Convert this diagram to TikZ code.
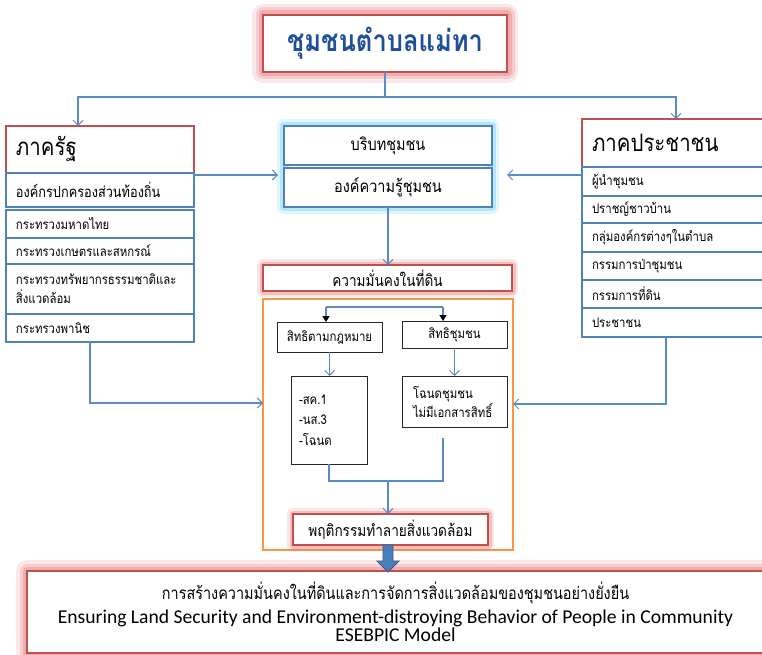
\documentclass[tikz,border=0pt]{standalone}
\usepackage{fontspec}
\setmainfont{Carlito}
\newfontfamily\thai[Script=Thai,FakeStretch=0.85]{Loma}
\usetikzlibrary{arrows.meta}
\definecolor{bboxc}{HTML}{4F81BD}
\definecolor{connc}{HTML}{5B8AC6}
\definecolor{redc}{HTML}{C0504D}
\definecolor{glowred}{HTML}{E8787A}
\definecolor{glowcyan}{HTML}{6FD3F2}
\definecolor{orangec}{HTML}{F79646}
\definecolor{titleblue}{HTML}{1F4E9A}
\definecolor{arrowblue}{HTML}{4A7EBB}
\definecolor{arrowdark}{HTML}{385D8A}
\tikzset{
  conn/.style={draw=connc, line width=1.3pt, -{Straight Barb[length=5pt,width=10pt,line width=1pt]}},
  plain/.style={draw=connc, line width=1.3pt},
  darrow/.style={draw=connc, line width=1.3pt, -{Triangle[length=6pt,width=7pt,color=black]}},
  bigglow/.style={preaction={draw=glowred, line width=22pt, draw opacity=0.16, line join=round},
                  preaction={draw=glowred, line width=15pt, draw opacity=0.24, line join=round},
                  preaction={draw=glowred, line width=9pt, draw opacity=0.38, line join=round}},
  smallglow/.style={preaction={draw=glowred, line width=12pt, draw opacity=0.18, line join=round},
                    preaction={draw=glowred, line width=7pt, draw opacity=0.36, line join=round}},
  redbox/.style={draw=redc, line width=2.6pt, fill=white},
  bluebox/.style={draw=bboxc, line width=2.6pt, fill=white},
  blackbox/.style={draw=black!85, line width=1pt, fill=white},
  lbox/.style={text width=168pt, inner xsep=10pt, align=left},
  rbox/.style={text width=162pt, inner xsep=10pt, align=left},
  thaiS/.style={font=\thai\fontsize{13.4}{19}\selectfont},
  thaiH/.style={font=\thai\fontsize{24}{28}\selectfont},
}
\begin{document}
\begin{tikzpicture}[x=1pt,y=-1pt, every node/.style={inner sep=0pt,outer sep=0pt}]
\useasboundingbox (0,0) rectangle (762,655);
\fill[white] (0,0) rectangle (762,655);

% cyan glow behind the central pair
\draw[draw=glowcyan, line width=14pt, draw opacity=0.2, line join=round] (284,126) rectangle (492,207);
\draw[draw=glowcyan, line width=8pt, draw opacity=0.4, line join=round] (284,126) rectangle (492,207);

% title
\node[redbox, bigglow, minimum width=244pt, minimum height=57pt,
      font=\thai\bfseries\fontsize{30}{34}\selectfont, text=titleblue] (title) at (385,43.5) {ชุมชนตำบลแม่ทา};

% left block
\node[redbox, lbox, thaiH, minimum height=47pt] (rh) at (100,149.5) {ภาครัฐ};
\node[bluebox, lbox, font=\thai\fontsize{15}{19}\selectfont, minimum height=34pt] (r1) at (100,190) {องค์กรปกครองส่วนท้องถิ่น};
\node[bluebox, lbox, thaiS, minimum height=28pt] (r2) at (100,224) {กระทรวงมหาดไทย};
\node[bluebox, lbox, thaiS, minimum height=26pt] (r3) at (100,251) {กระทรวงเกษตรและสหกรณ์};
\node[bluebox, lbox, thaiS, minimum height=50pt] (r4) at (100,289) {กระทรวงทรัพยากรธรรมชาติและ\\สิ่งแวดล้อม};
\node[bluebox, lbox, thaiS, minimum height=28pt] (r5) at (100,328) {กระทรวงพานิช};

% right block
\node[redbox, rbox, thaiH, minimum height=48pt] (ph) at (673,143) {ภาคประชาชน};
\node[bluebox, rbox, thaiS, minimum height=29pt] (p1) at (673,181.5) {ผู้นำชุมชน};
\node[bluebox, rbox, thaiS, minimum height=27pt] (p2) at (673,209.5) {ปราชญ์ชาวบ้าน};
\node[bluebox, rbox, thaiS, minimum height=29pt] (p3) at (673,237.5) {กลุ่มองค์กรต่างๆในตำบล};
\node[bluebox, rbox, thaiS, minimum height=28pt] (p4) at (673,266) {กรรมการป่าชุมชน};
\node[bluebox, rbox, thaiS, minimum height=28pt] (p5) at (673,294) {กรรมการที่ดิน};
\node[bluebox, rbox, thaiS, minimum height=29pt] (p6) at (673,322.5) {ประชาชน};

% centre
\node[bluebox, minimum width=208pt, minimum height=39pt, font=\thai\fontsize{17}{20}\selectfont] (k1) at (388,145.5) {บริบทชุมชน};
\node[bluebox, minimum width=208pt, minimum height=39pt, font=\thai\fontsize{17}{20}\selectfont] (k2) at (388,187.5) {องค์ความรู้ชุมชน};

\node[redbox, smallglow, minimum width=249pt, minimum height=26pt, font=\thai\fontsize{16}{20}\selectfont] (km) at (387.5,278) {ความมั่นคงในที่ดิน};

\node[draw=orangec, line width=2pt, minimum width=250pt, minimum height=251pt] (org) at (388,424.5) {};

\node[blackbox, minimum width=105pt, minimum height=30pt, thaiS] (s1) at (329.5,337) {สิทธิตามกฎหมาย};
\node[blackbox, minimum width=105pt, minimum height=27pt, thaiS] (s2) at (454.5,334.5) {สิทธิชุมชน};
\node[blackbox, minimum height=88pt, text width=60pt, inner xsep=8pt, align=left,
      font=\thai\fontsize{13.4}{20.5}\selectfont] (l1) at (329,420) {-สค.1\\-นส.3\\-โฉนด\par\vspace{16pt}};
\node[blackbox, minimum height=51pt, text width=83pt, inner xsep=11pt, align=left,
      font=\thai\fontsize{13.4}{19}\selectfont] (l2) at (454.5,401.5) {โฉนดชุมชน\\ไม่มีเอกสารสิทธิ์};

\node[redbox, smallglow, minimum width=195pt, minimum height=31pt, font=\thai\fontsize{16}{20}\selectfont] (beh) at (390.5,529.5) {พฤติกรรมทำลายสิ่งแวดล้อม};

% final box
\node[redbox, bigglow, minimum width=737pt, minimum height=82pt, align=center] (fin) at (395.5,612)
  {{\thai\fontsize{17}{20}\selectfont การสร้างความมั่นคงในที่ดินและการจัดการสิ่งแวดล้อมของชุมชนอย่างยั่งยืน}\\[5pt]
   {\fontsize{19.6}{23}\selectfont Ensuring Land Security and Environment-distroying Behavior of People in Community}\\
   {\fontsize{19.6}{23}\selectfont ESEBPIC Model}};

% block arrow
\filldraw[fill=arrowblue, draw=arrowdark, line width=0.8pt, line join=miter]
  ([xshift=-7.5pt]beh.south) -- ++(10,0) -- ++(0,16) -- ++(6,0) -- ++(-11,11) -- ++(-11,-11) -- ++(6,0) -- cycle;

% connectors
\coordinate (tj) at ([yshift=-25pt]title.south);
\draw[plain] (title.south) -- (tj);
\draw[conn] (tj) -| ([xshift=72pt]rh.north west);
\draw[conn] (tj) -| ([xshift=94pt]ph.north west);

\coordinate (a1) at ([yshift=-2pt]rh.south east);
\path (a1 -| k2.west) coordinate (a2);
\draw[conn] (a1) -- ([xshift=-6pt]a2);

\coordinate (b1) at ([yshift=-8pt]ph.south west);
\path (b1 -| k2.east) coordinate (b2);
\draw[conn] (b1) -- ([xshift=15pt]b2);

\draw[conn] (k2.south) -- (k2.south |- km.north);

\coordinate (c1) at ([xshift=84pt]r5.south west);
\coordinate (c2) at ([yshift=21.5pt]org.west);
\draw[conn] (c1) |- (c2);
\coordinate (d1) at ([xshift=84pt]p6.south west);
\coordinate (d2) at ([yshift=20.5pt]org.east);
\draw[conn] (d1) |- (d2);

\coordinate (hL) at (326,307);
\coordinate (hR) at (443,307);
\draw[plain] (hL) -- (hR);
\draw[darrow] (hL) -- (hL |- s1.north);
\draw[darrow] (hR) -- (hR |- s2.north);
\draw[conn] (s1.south) -- (s1.south |- l1.north);
\draw[conn] (s2.south) -- (l2.north);
\coordinate (jm) at (388,481);
\coordinate (jR) at (443,438);
\draw[plain] (l1.south) |- (jm) -| (jR);
\draw[conn] (jm) -- (jm |- beh.north);
\end{tikzpicture}
\end{document}
